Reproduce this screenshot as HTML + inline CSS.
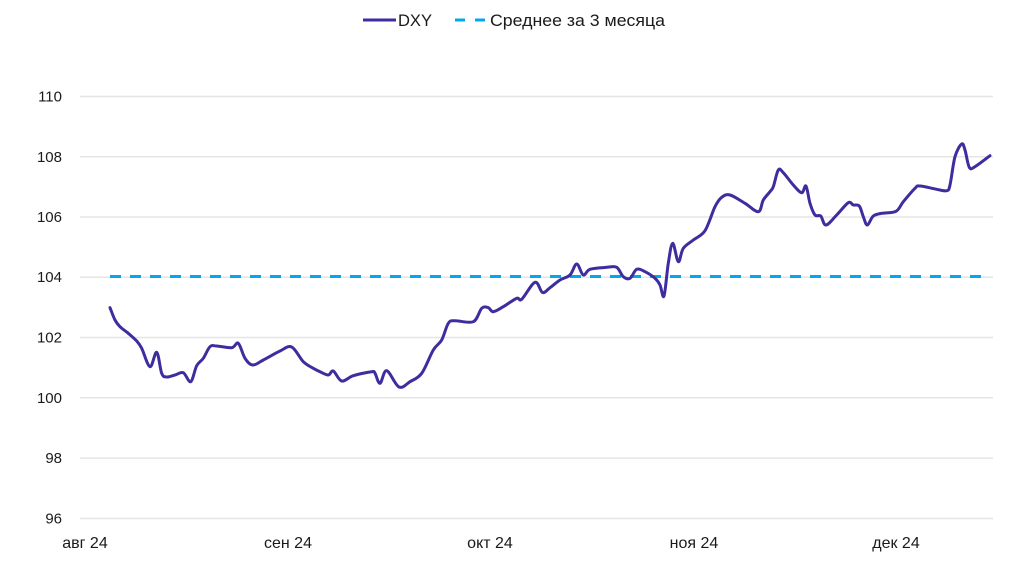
<!DOCTYPE html>
<html><head><meta charset="utf-8">
<style>
html,body{margin:0;padding:0;background:#fff;}
body{width:1024px;height:579px;overflow:hidden;}
svg{display:block;font-family:"Liberation Sans",Arial,sans-serif;}
</style></head>
<body>
<svg id="s" width="1024" height="579" viewBox="0 0 1024 579" xmlns="http://www.w3.org/2000/svg">
  <!-- legend -->
  <line x1="363" y1="20" x2="396" y2="20" stroke="#3d2d9e" stroke-width="3"/>
  <text x="398" y="26" font-size="17" fill="#1a1a1a" textLength="34" lengthAdjust="spacingAndGlyphs">DXY</text>
  <line x1="455" y1="20" x2="489" y2="20" stroke="#00a8ee" stroke-width="3" stroke-dasharray="10,10"/>
  <text x="490" y="26" font-size="17" fill="#1a1a1a" textLength="175" lengthAdjust="spacingAndGlyphs">Среднее за 3 месяца</text>

  <!-- gridlines -->
  <g stroke="#e5e5e5" stroke-width="1.5">
    <line x1="80" y1="96.5" x2="993" y2="96.5"/>
    <line x1="80" y1="156.8" x2="993" y2="156.8"/>
    <line x1="80" y1="217" x2="993" y2="217"/>
    <line x1="80" y1="277.2" x2="993" y2="277.2"/>
    <line x1="80" y1="337.5" x2="993" y2="337.5"/>
    <line x1="80" y1="397.8" x2="993" y2="397.8"/>
    <line x1="80" y1="458.1" x2="993" y2="458.1"/>
    <line x1="80" y1="518.5" x2="993" y2="518.5"/>
  </g>

  <!-- y labels -->
  <g font-size="15" fill="#1a1a1a" text-anchor="end">
    <text x="62" y="101.5">110</text>
    <text x="62" y="161.8">108</text>
    <text x="62" y="222">106</text>
    <text x="62" y="282.2">104</text>
    <text x="62" y="342.5">102</text>
    <text x="62" y="402.8">100</text>
    <text x="62" y="463.1">98</text>
    <text x="62" y="523.5">96</text>
  </g>

  <!-- x labels -->
  <g font-size="16" fill="#1a1a1a" text-anchor="middle">
    <text x="85" y="548">авг 24</text>
    <text x="288" y="548">сен 24</text>
    <text x="490" y="548">окт 24</text>
    <text x="694" y="548">ноя 24</text>
    <text x="896" y="548">дек 24</text>
  </g>

  <!-- average line -->
  <line x1="110" y1="276.5" x2="990" y2="276.5" stroke="#00a8ee" stroke-width="3" stroke-dasharray="11,9"/>

  <!-- DXY series -->
  <polyline id="pl" fill="none" stroke="#3d2d9e" stroke-width="3" stroke-linejoin="round" stroke-linecap="round"
    points="110,307.7 115,320 120,326.7 128.3,333.3 136.7,341 141.7,348.3 150,366.7 156.7,352.3 161.7,373.3 166.7,377 175,375 183.3,372.7 190.7,381.7 196.7,365.7 203.3,358.3 210,346.7 216.7,346 231.7,347.7 238.3,343.3 245,358.3 252.7,365 263.3,360 280,351 291.7,347 303.3,361.7 313.3,368.3 320,371.7 328.3,375 333.3,371 341.7,381 353.3,375.7 371.7,371.7 375,373.3 380,383.3 386.7,370.7 399,387 410,381.7 421.7,373.3 433.3,350 441.7,340 448.3,323.3 455,320.7 473.3,321.7 481.7,308.3 488.3,307.7 493.3,311.7 503.3,306.7 516.7,298.3 521.7,299.3 535,282.3 542.5,292.5 550,287.7 560,280 570,275 576.7,264 583.3,275 590,269.3 606.7,267.3 616.7,267.3 623.3,276.7 630,278.3 636.7,269.3 645,271.7 655,278.3 660,285 664,296 668.3,263.3 672.7,243.3 678.3,261.7 683.3,248.3 693.3,240 705,230.7 715,206.7 721.7,197.3 730,195 745,203.3 758.3,211.7 763.3,200 770,191.7 773.3,186.7 778.3,170 783.3,172.7 793.3,185 801.7,192.7 806,186 810,203.3 815,215 820.7,216 826,225 836.7,215 848.3,202.7 853.3,205 859.3,206 863.3,216.7 867.3,225 873.3,216 881.7,213.3 896,211.3 903.3,201.7 915,188.3 920,186 936.7,189.3 946.7,190.7 950,185 955,156.7 961.7,144 965,150 969.3,167.3 975,166.7 990,155.7"/>
</svg>
<script>
(function(){
  try{
    var pl=document.getElementById('pl');
    var raw=pl.getAttribute('points').trim().split(/\s+/).map(function(p){var a=p.split(',');return [parseFloat(a[0]),parseFloat(a[1])];});
    var d='M'+raw[0][0]+','+raw[0][1];
    for(var i=0;i<raw.length-1;i++){
      var p0=raw[i-1]||raw[i],p1=raw[i],p2=raw[i+1],p3=raw[i+2]||p2;
      var c1x=p1[0]+(p2[0]-p0[0])/6, c1y=p1[1]+(p2[1]-p0[1])/6;
      var c2x=p2[0]-(p3[0]-p1[0])/6, c2y=p2[1]-(p3[1]-p1[1])/6;
      d+=' C'+c1x.toFixed(2)+','+c1y.toFixed(2)+' '+c2x.toFixed(2)+','+c2y.toFixed(2)+' '+p2[0]+','+p2[1];
    }
    var ns='http://www.w3.org/2000/svg';
    var path=document.createElementNS(ns,'path');
    path.setAttribute('d',d);
    path.setAttribute('fill','none');
    path.setAttribute('stroke','#3d2d9e');
    path.setAttribute('stroke-width','3');
    path.setAttribute('stroke-linejoin','round');
    path.setAttribute('stroke-linecap','round');
    pl.parentNode.insertBefore(path,pl);
    pl.parentNode.removeChild(pl);
  }catch(e){}
})();
</script>
</body></html>
